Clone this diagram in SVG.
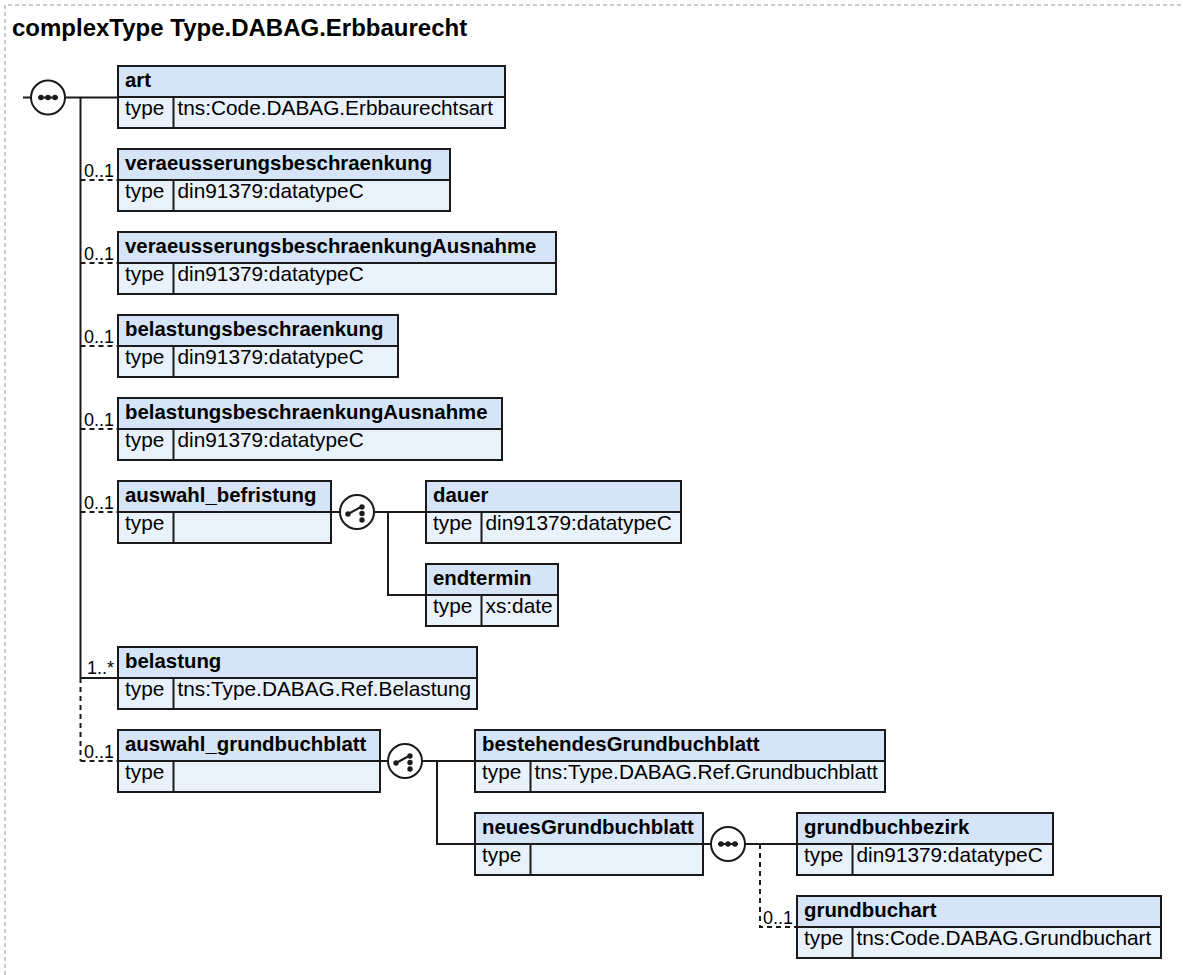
<svg xmlns="http://www.w3.org/2000/svg" width="1183" height="975" viewBox="0 0 1183 975">
<defs>
<style>
text{font-family:"Liberation Sans",Arial,sans-serif;fill:#000}
.title{font-size:24px;font-weight:bold}
.nm{font-size:20.4px;font-weight:bold}
.tp{font-size:20.8px}
.ml{font-size:18px}
.hd{fill:#d6e4f7;stroke:#1a1a1a;stroke-width:2}
.bd{fill:#e9f1fb;stroke:#1a1a1a;stroke-width:2}
.dv{stroke:#1a1a1a;stroke-width:2}
.c{fill:none;stroke:#1a1a1a;stroke-width:2}
.d{fill:none;stroke:#1a1a1a;stroke-width:2;stroke-dasharray:5 4}
.ic{fill:#fff;stroke:#1a1a1a;stroke-width:2}
.dot{fill:#1a1a1a}
</style>
<g id="seqIcon">
<circle class="ic" r="17"/>
<line x1="-10" y1="0" x2="10" y2="0" stroke="#1a1a1a" stroke-width="2"/>
<circle class="dot" cx="-7" cy="0" r="2.7"/>
<circle class="dot" cx="0" cy="0" r="2.7"/>
<circle class="dot" cx="7" cy="0" r="2.7"/>
</g>
<g id="choiceIcon">
<circle class="ic" r="17"/>
<line x1="-9" y1="2" x2="4" y2="-5" stroke="#1a1a1a" stroke-width="2"/>
<circle class="dot" cx="-9" cy="2" r="2.7"/>
<circle class="dot" cx="5" cy="-5" r="2.7"/>
<circle class="dot" cx="5" cy="1.5" r="2.7"/>
<circle class="dot" cx="5" cy="8" r="2.7"/>
</g>
</defs>
<rect width="1183" height="975" fill="#fff"/>
<path d="M5,975 V5 H1183" fill="none" stroke="#999" stroke-width="1" stroke-dasharray="4 3"/>
<text class="title" x="12" y="36">complexType Type.DABAG.Erbbaurecht</text>

<g id="connectors">
<path class="c" d="M23,97.5 H31 M65,97.5 H118 M80.5,97.5 V678"/>
<path class="d" d="M80.5,678 V761"/>
<path class="d" d="M80.5,180 H118 M80.5,263 H118 M80.5,346 H118 M80.5,429 H118 M80.5,512 H118 M80.5,761 H118"/>
<path class="c" d="M80.5,678 H118"/>
<path class="c" d="M331,512 H340 M374,512 H426 M388,512 V595 H426"/>
<path class="c" d="M380,761 H388 M422,761 H475 M437,761 V844 H475"/>
<path class="c" d="M703,844 H711 M745,844 H797"/>
<path class="d" d="M760,844 V927 H797"/>
<text class="ml" x="114" y="177" text-anchor="end">0..1</text>
<text class="ml" x="114" y="260" text-anchor="end">0..1</text>
<text class="ml" x="114" y="343" text-anchor="end">0..1</text>
<text class="ml" x="114" y="426" text-anchor="end">0..1</text>
<text class="ml" x="114" y="509" text-anchor="end">0..1</text>
<text class="ml" x="114" y="674" text-anchor="end">1..*</text>
<text class="ml" x="114" y="758" text-anchor="end">0..1</text>
<text class="ml" x="793" y="924" text-anchor="end">0..1</text>
</g>

<g id="seq-main"><use href="#seqIcon" x="48" y="97.5"/></g>
<g id="choice-befristung"><use href="#choiceIcon" x="357" y="512"/></g>
<g id="choice-grundbuchblatt"><use href="#choiceIcon" x="405" y="761"/></g>
<g id="seq-neues"><use href="#seqIcon" x="728" y="844"/></g>

<g id="node-art" transform="translate(118,66)">
<rect class="hd" width="387" height="31"/><rect class="bd" y="31" width="387" height="31"/>
<line class="dv" x1="55.5" y1="31" x2="55.5" y2="62"/>
<text class="nm" x="7" y="21">art</text><text class="tp" x="7" y="48.5">type</text>
<text class="tp" x="59.5" y="48.5">tns:Code.DABAG.Erbbaurechtsart</text>
</g>
<g id="node-veraeusserungsbeschraenkung" transform="translate(118,149)">
<rect class="hd" width="332" height="31"/><rect class="bd" y="31" width="332" height="31"/>
<line class="dv" x1="55.5" y1="31" x2="55.5" y2="62"/>
<text class="nm" x="7" y="21">veraeusserungsbeschraenkung</text><text class="tp" x="7" y="48.5">type</text>
<text class="tp" x="59.5" y="48.5">din91379:datatypeC</text>
</g>
<g id="node-veraeusserungsbeschraenkungAusnahme" transform="translate(118,232)">
<rect class="hd" width="438" height="31"/><rect class="bd" y="31" width="438" height="31"/>
<line class="dv" x1="55.5" y1="31" x2="55.5" y2="62"/>
<text class="nm" x="7" y="21">veraeusserungsbeschraenkungAusnahme</text><text class="tp" x="7" y="48.5">type</text>
<text class="tp" x="59.5" y="48.5">din91379:datatypeC</text>
</g>
<g id="node-belastungsbeschraenkung" transform="translate(118,315)">
<rect class="hd" width="280" height="31"/><rect class="bd" y="31" width="280" height="31"/>
<line class="dv" x1="55.5" y1="31" x2="55.5" y2="62"/>
<text class="nm" x="7" y="21">belastungsbeschraenkung</text><text class="tp" x="7" y="48.5">type</text>
<text class="tp" x="59.5" y="48.5">din91379:datatypeC</text>
</g>
<g id="node-belastungsbeschraenkungAusnahme" transform="translate(118,398)">
<rect class="hd" width="384" height="31"/><rect class="bd" y="31" width="384" height="31"/>
<line class="dv" x1="55.5" y1="31" x2="55.5" y2="62"/>
<text class="nm" x="7" y="21">belastungsbeschraenkungAusnahme</text><text class="tp" x="7" y="48.5">type</text>
<text class="tp" x="59.5" y="48.5">din91379:datatypeC</text>
</g>
<g id="node-auswahl_befristung" transform="translate(118,481)">
<rect class="hd" width="213" height="31"/><rect class="bd" y="31" width="213" height="31"/>
<line class="dv" x1="55.5" y1="31" x2="55.5" y2="62"/>
<text class="nm" x="7" y="21">auswahl_befristung</text><text class="tp" x="7" y="48.5">type</text>
</g>
<g id="node-dauer" transform="translate(426,481)">
<rect class="hd" width="255" height="31"/><rect class="bd" y="31" width="255" height="31"/>
<line class="dv" x1="55.5" y1="31" x2="55.5" y2="62"/>
<text class="nm" x="7" y="21">dauer</text><text class="tp" x="7" y="48.5">type</text>
<text class="tp" x="59.5" y="48.5">din91379:datatypeC</text>
</g>
<g id="node-endtermin" transform="translate(426,564)">
<rect class="hd" width="132" height="31"/><rect class="bd" y="31" width="132" height="31"/>
<line class="dv" x1="55.5" y1="31" x2="55.5" y2="62"/>
<text class="nm" x="7" y="21">endtermin</text><text class="tp" x="7" y="48.5">type</text>
<text class="tp" x="59.5" y="48.5">xs:date</text>
</g>
<g id="node-belastung" transform="translate(118,647)">
<rect class="hd" width="359" height="31"/><rect class="bd" y="31" width="359" height="31"/>
<line class="dv" x1="55.5" y1="31" x2="55.5" y2="62"/>
<text class="nm" x="7" y="21">belastung</text><text class="tp" x="7" y="48.5">type</text>
<text class="tp" x="59.5" y="48.5">tns:Type.DABAG.Ref.Belastung</text>
</g>
<g id="node-auswahl_grundbuchblatt" transform="translate(118,730)">
<rect class="hd" width="262" height="31"/><rect class="bd" y="31" width="262" height="31"/>
<line class="dv" x1="55.5" y1="31" x2="55.5" y2="62"/>
<text class="nm" x="7" y="21">auswahl_grundbuchblatt</text><text class="tp" x="7" y="48.5">type</text>
</g>
<g id="node-bestehendesGrundbuchblatt" transform="translate(475,730)">
<rect class="hd" width="410" height="31"/><rect class="bd" y="31" width="410" height="31"/>
<line class="dv" x1="55.5" y1="31" x2="55.5" y2="62"/>
<text class="nm" x="7" y="21">bestehendesGrundbuchblatt</text><text class="tp" x="7" y="48.5">type</text>
<text class="tp" x="59.5" y="48.5">tns:Type.DABAG.Ref.Grundbuchblatt</text>
</g>
<g id="node-neuesGrundbuchblatt" transform="translate(475,813)">
<rect class="hd" width="228" height="31"/><rect class="bd" y="31" width="228" height="31"/>
<line class="dv" x1="55.5" y1="31" x2="55.5" y2="62"/>
<text class="nm" x="7" y="21">neuesGrundbuchblatt</text><text class="tp" x="7" y="48.5">type</text>
</g>
<g id="node-grundbuchbezirk" transform="translate(797,813)">
<rect class="hd" width="256" height="31"/><rect class="bd" y="31" width="256" height="31"/>
<line class="dv" x1="55.5" y1="31" x2="55.5" y2="62"/>
<text class="nm" x="7" y="21">grundbuchbezirk</text><text class="tp" x="7" y="48.5">type</text>
<text class="tp" x="59.5" y="48.5">din91379:datatypeC</text>
</g>
<g id="node-grundbuchart" transform="translate(797,896)">
<rect class="hd" width="364" height="31"/><rect class="bd" y="31" width="364" height="31"/>
<line class="dv" x1="55.5" y1="31" x2="55.5" y2="62"/>
<text class="nm" x="7" y="21">grundbuchart</text><text class="tp" x="7" y="48.5">type</text>
<text class="tp" x="59.5" y="48.5">tns:Code.DABAG.Grundbuchart</text>
</g>
</svg>
